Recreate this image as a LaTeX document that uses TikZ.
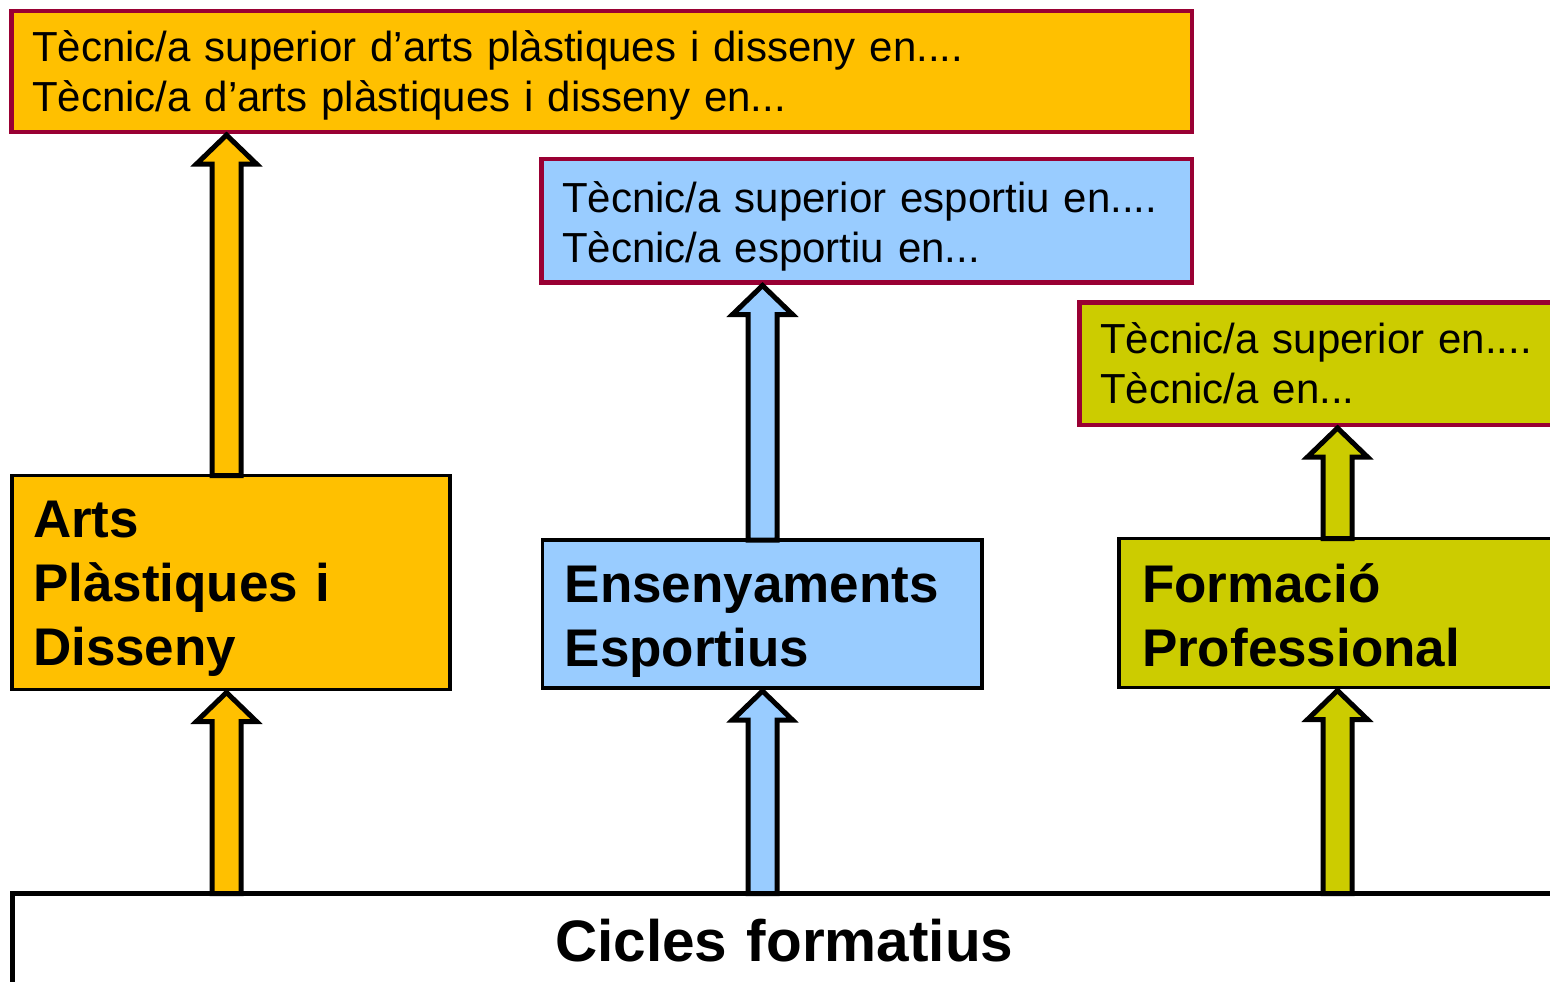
\documentclass[tikz,border=0pt]{standalone}
\usepackage{fontspec}
\setmainfont{Liberation Sans}
\usetikzlibrary{calc}
\definecolor{orangeC}{HTML}{FFC000}
\definecolor{blueC}{HTML}{99CCFF}
\definecolor{oliveC}{HTML}{CCCC00}
\definecolor{crimsonC}{HTML}{990033}
\tikzset{
  box/.style={draw, rectangle, outer sep=0pt, inner ysep=0pt, anchor=north west, align=left},
  topbox/.style={box, draw=crimsonC, line width=4.5pt, font=\fontsize{42}{50}\selectfont},
  catbox/.style={box, draw=black, line width=3.5pt, font=\bfseries\fontsize{53}{64}\selectfont},
  basebox/.style={box, draw=black, line width=5pt, align=center, font=\bfseries\fontsize{58.5}{70}\selectfont},
  arrowline/.style={draw=black, line width=5pt, line join=miter},
}
\newcommand\blockarrow[4]{% #1 x, #2 lower node, #3 upper node, #4 colour
  \path (#1,0) coordinate (ax);
  \draw[arrowline, fill=#4] let \p1=(#2.north -| ax), \p2=(#3.south -| ax) in
    (\x1-14.5pt,\y1) -- (\x1-14.5pt,\y2-32pt) -- (\x1-30pt,\y2-32pt) -- (\x1,\y2-3pt)
    -- (\x1+30pt,\y2-32pt) -- (\x1+14.5pt,\y2-32pt) -- (\x1+14.5pt,\y1) -- cycle;}
\begin{document}
\begin{tikzpicture}[x=1pt,y=-1pt]
\useasboundingbox (0,0) rectangle (1550,982);
\clip (0,0) rectangle (1550,982);
% top boxes
\node[topbox, fill=orangeC, minimum width=1180.3pt, inner xsep=20.3pt, text width=1139.7pt,
      text height=51pt, text depth=70pt] (t1) at (11.7,11)
  {Tècnic/a superior d’arts plàstiques i disseny en....\\Tècnic/a d’arts plàstiques i disseny en...};
\node[topbox, fill=blueC, minimum width=650.5pt, inner xsep=20.5pt, text width=609.5pt,
      text height=53pt, text depth=70.5pt] (t2) at (541.5,159)
  {Tècnic/a superior esportiu en....\\Tècnic/a esportiu en...};
\node[topbox, fill=oliveC, minimum width=520.5pt, inner xsep=20.5pt, text width=479.5pt,
      text height=50.8pt, text depth=71.7pt] (t3) at (1079.5,302.5)
  {Tècnic/a superior en....\\Tècnic/a en...};
% category boxes
\node[catbox, fill=orangeC, minimum width=438pt, inner xsep=21pt, text width=396pt,
      text height=61.5pt, text depth=152.5pt] (c1) at (12,475.5)
  {Arts\\Plàstiques i\\Disseny};
\node[catbox, fill=blueC, minimum width=439.3pt, inner xsep=22pt, text width=395.3pt,
      text height=62pt, text depth=86pt] (c2) at (542.7,540)
  {Ensenyaments\\Esportius};
\node[catbox, fill=oliveC, minimum width=481pt, inner xsep=23pt, text width=435pt,
      text height=63.5pt, text depth=85.5pt] (c3) at (1119,538.5)
  {Formació\\Professional};
% base box
\node[basebox, fill=white, minimum width=1543.5pt, inner xsep=20pt, text width=1503.5pt,
      text height=67.5pt, text depth=40pt] (b) at (12.5,893.5)
  {Cicles formatius};
% arrows
\blockarrow{226.5}{b}{c1}{orangeC}
\blockarrow{762.5}{b}{c2}{blueC}
\blockarrow{1337.5}{b}{c3}{oliveC}
\blockarrow{226.5}{c1}{t1}{orangeC}
\blockarrow{762.5}{c2}{t2}{blueC}
\blockarrow{1337.5}{c3}{t3}{oliveC}
\end{tikzpicture}
\end{document}
